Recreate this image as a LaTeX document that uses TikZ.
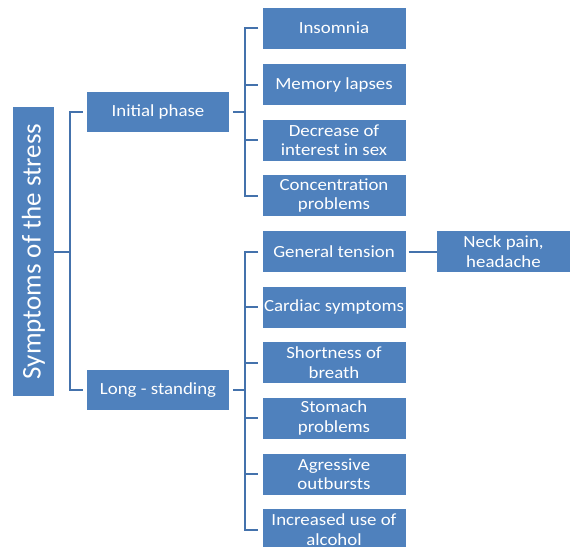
\documentclass[tikz,border=0pt]{standalone}
\usepackage{fontspec}
\setmainfont{Carlito}[FakeStretch=1.11]
\newfontfamily\rootfont{Carlito}
\usetikzlibrary{calc}
\definecolor{boxblue}{RGB}{79,129,189}
\definecolor{lineblue}{RGB}{68,114,172}

\tikzset{
  box/.style={fill=boxblue, text=white, align=center, inner sep=0pt,
    minimum width=143pt, minimum height=41pt,
    font=\fontsize{17}{19.5}\selectfont},
  link/.style={draw=lineblue, line width=2pt}
}

\begin{document}
\begin{tikzpicture}[x=1pt,y=-1pt]
\useasboundingbox (0,0) rectangle (570,546);

% root and the two phases
\node[box, rotate=90, minimum width=289pt, minimum height=41pt,
  font=\rootfont\fontsize{27}{30}\selectfont] (root) at (33.5,251.5) {Symptoms of the stress};
\node[box, minimum width=142pt, minimum height=40pt] (init) at (158,112) {Initial phase};
\node[box, minimum width=142pt, minimum height=40pt] (long) at (158,390) {Long - standing};

% symptoms of the initial phase
\node[box] (ins) at (334,28) {Insomnia};
\node[box] (mem) at (334,84.5) {Memory lapses};
\node[box] (dec) at (334,140) {Decrease of\\interest in sex};
\node[box] (con) at (334,195.5) {Concentration\\problems};

% symptoms of the long-standing phase
\node[box] (ten) at (334,251.5) {General tension};
\node[box] (car) at (334,307) {Cardiac symptoms};
\node[box] (bre) at (334,362.5) {Shortness of\\breath};
\node[box] (sto) at (334,418) {Stomach\\problems};
\node[box] (agr) at (334,474) {Agressive\\outbursts};
\node[box] (alc) at (334,529.5) {Increased use of\\alcohol};
\node[box, minimum width=133pt] (neck) at (503.5,251.5) {Neck pain,\\headache};

% brackets
\coordinate (rbus) at ($(root.south)+(16,0)$);
\coordinate (ibus) at ($(init.east)+(16,0)$);
\coordinate (lbus) at ($(long.east)+(16,0)$);

\draw[link] (root.south) -- (rbus);
\draw[link] ([xshift=-4pt]init.west) -| (rbus) |- ([xshift=-4pt]long.west);

\draw[link] ([xshift=4pt]init.east) -- (ibus);
\draw[link] ([xshift=-4pt]ins.west) -| (ibus) |- ([xshift=-4pt]con.west);
\foreach \n in {mem,dec}
  \draw[link] (ibus |- \n.west) -- ([xshift=-4pt]\n.west);

\draw[link] ([xshift=4pt]long.east) -- (lbus);
\draw[link] ([xshift=-4pt]ten.west) -| (lbus) |- ([xshift=-4pt]alc.west);
\foreach \n in {car,bre,sto,agr}
  \draw[link] (lbus |- \n.west) -- ([xshift=-4pt]\n.west);

\draw[link] ([xshift=3pt]ten.east) -- (neck.west);
\end{tikzpicture}
\end{document}
